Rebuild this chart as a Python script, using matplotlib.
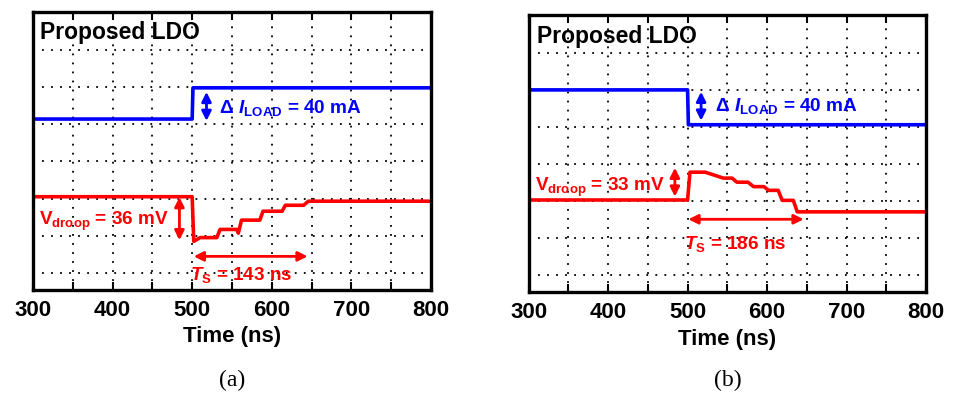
import matplotlib
matplotlib.use("Agg")
import matplotlib.pyplot as plt

plt.rcParams["font.family"] = ["Liberation Sans", "DejaVu Sans"]
plt.rcParams["font.weight"] = "bold"
plt.rcParams["mathtext.fontset"] = "custom"
plt.rcParams["mathtext.rm"] = "Liberation Sans:bold"
plt.rcParams["mathtext.bf"] = "Liberation Sans:bold"
plt.rcParams["mathtext.it"] = "Liberation Sans:bold:italic"

# =========================
# Data (time in ns, level in scope divisions)
# =========================
TICKS = [300, 400, 500, 600, 700, 800]
MINOR = [350, 450, 550, 650, 750]
GRID_Y = [0, 1, 2, 3, 4, 5, 6]

# (a) load step up
a_iload_t = [300, 500, 501, 800]
a_iload_v = [4.14, 4.14, 4.98, 4.98]
a_vout_t = [300, 500, 502, 510, 531, 535, 556, 558, 562, 585, 589, 613, 617, 640, 646, 800]
a_vout_v = [2.05, 2.05, 0.85, 0.95, 0.95, 1.17, 1.17, 1.07, 1.42, 1.42, 1.66, 1.66, 1.82, 1.82, 1.93, 1.93]

# (b) load step down
b_iload_t = [300, 500, 501, 800]
b_iload_v = [5.0, 5.0, 4.06, 4.06]
b_vout_t = [300, 500, 503, 522, 528, 545, 556, 562, 576, 583, 596, 602, 614, 619, 633, 638, 800]
b_vout_v = [2.03, 2.03, 2.78, 2.78, 2.74, 2.62, 2.62, 2.51, 2.51, 2.39, 2.39, 2.29, 2.29, 2.02, 2.02, 1.71, 1.71]

BLUE = "#0000ff"
RED = "#ff0000"


def style_axes(ax):
    ax.set_xlim(300, 800)
    ax.set_ylim(-0.46, 7.02)
    ax.set_xticks(TICKS)
    ax.set_xticks(MINOR, minor=True)
    ax.set_yticks(GRID_Y)
    ax.grid(True, which="both", color="black", linestyle=(0, (1, 4)), linewidth=1.3)
    ax.tick_params(axis="x", which="both", direction="in", top=True, length=6, width=1.5,
                   labelsize=16, pad=7)
    ax.tick_params(axis="y", length=0, labelleft=False)
    for lab in ax.get_xticklabels():
        lab.set_fontweight("bold")
    for s in ax.spines.values():
        s.set_linewidth(2.4)
    ax.set_xlabel("Time (ns)", fontsize=16, fontweight="bold", labelpad=4)


def darrow(ax, p1, p2, color):
    ax.annotate("", xy=p1, xytext=p2,
                arrowprops=dict(arrowstyle="<|-|>", color=color, lw=2,
                                mutation_scale=14, shrinkA=0, shrinkB=0))


fig = plt.figure(figsize=(9.55, 3.95), dpi=100)
ax1 = fig.add_axes([0.0345, 0.2658, 0.4168, 0.7038])
ax2 = fig.add_axes([0.5535, 0.2600, 0.4162, 0.7020])

# ---- (a)
style_axes(ax1)
ax1.plot(a_iload_t, a_iload_v, color=BLUE, lw=2.6)
ax1.plot(a_vout_t, a_vout_v, color=RED, lw=2.6)
ax1.text(309, 6.29, "Proposed LDO", fontsize=16.5, fontweight="bold", va="baseline")
darrow(ax1, (518, 4.87), (518, 4.09), BLUE)
ax1.text(534, 4.31, r"$\Delta\ \mathit{I}_{\mathrm{LOAD}}$ = 40 mA", color=BLUE,
         fontsize=13.7, fontweight="bold", va="baseline")
darrow(ax1, (484, 2.04), (484, 0.88), RED)
ax1.text(307, 1.28, r"V$_{\mathrm{droop}}$ = 36 mV", color=RED, fontsize=13.6,
         fontweight="bold", va="baseline")
darrow(ax1, (502, 0.445), (645, 0.445), RED)
ax1.text(497, -0.2, r"$\mathit{T}_{\mathrm{S}}$ = 143 ns", color=RED, fontsize=13.6,
         fontweight="bold", va="baseline")

# ---- (b)
style_axes(ax2)
ax2.plot(b_iload_t, b_iload_v, color=BLUE, lw=2.6)
ax2.plot(b_vout_t, b_vout_v, color=RED, lw=2.6)
ax2.text(310, 6.27, "Proposed LDO", fontsize=16.5, fontweight="bold", va="baseline")
darrow(ax2, (517, 4.95), (517, 4.17), BLUE)
ax2.text(535, 4.42, r"$\Delta\ \mathit{I}_{\mathrm{LOAD}}$ = 40 mA", color=BLUE,
         fontsize=13.7, fontweight="bold", va="baseline")
darrow(ax2, (484, 2.90), (484, 2.12), RED)
ax2.text(308, 2.28, r"V$_{\mathrm{droop}}$ = 33 mV", color=RED, fontsize=13.6,
         fontweight="bold", va="baseline")
darrow(ax2, (501, 1.51), (646, 1.51), RED)
ax2.text(496, 0.71, r"$\mathit{T}_{\mathrm{S}}$ = 186 ns", color=RED, fontsize=13.6,
         fontweight="bold", va="baseline")

fig.text(0.243, 0.038, "(a)", ha="center", va="center", fontsize=17,
         family="Liberation Serif", fontweight="normal")
fig.text(0.762, 0.038, "(b)", ha="center", va="center", fontsize=17,
         family="Liberation Serif", fontweight="normal")

fig.savefig("out.png", dpi=100)
